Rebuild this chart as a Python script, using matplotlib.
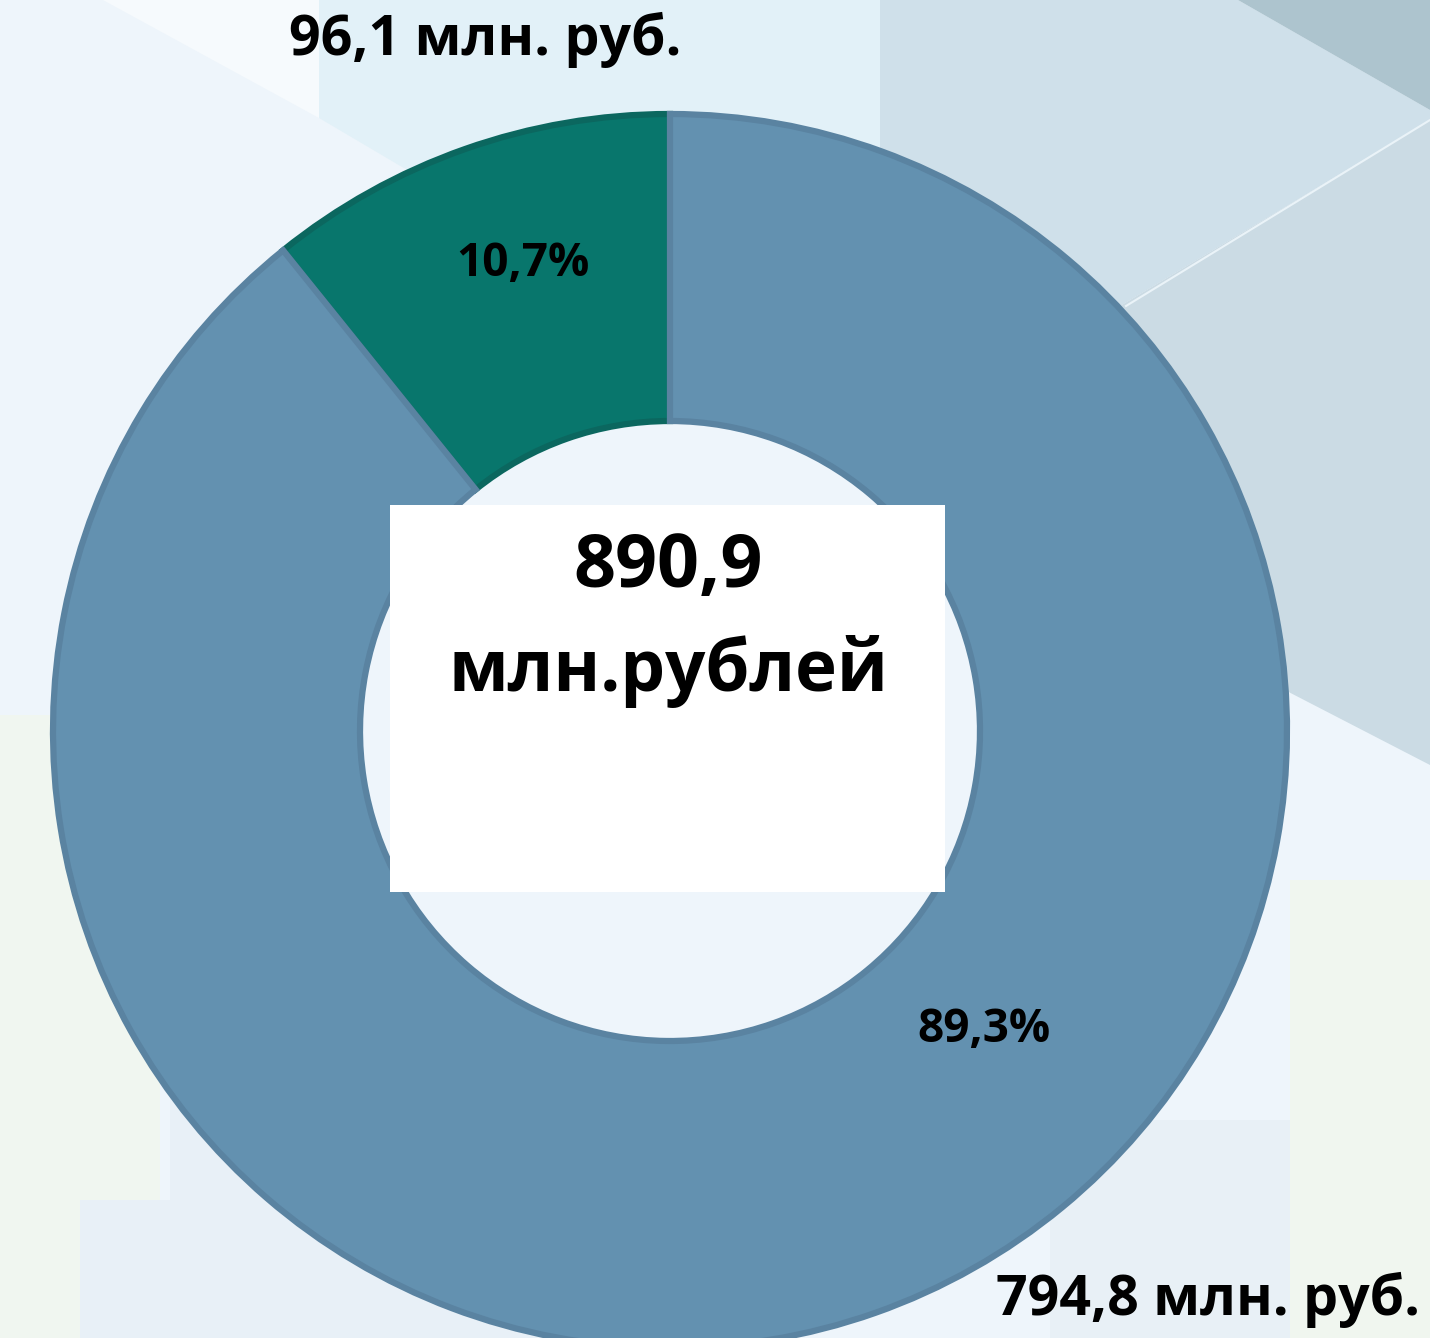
import matplotlib
matplotlib.use("Agg")
import matplotlib.pyplot as plt
from matplotlib.patches import Polygon, Rectangle

# ---- data ----
values = [96.1, 794.8]
percent_labels = ["10,7%", "89,3%"]
value_labels = ["96,1 млн. руб.", "794,8 млн. руб."]
total_label = "890,9\nмлн.рублей"
colors = ["#08766C", "#6391B0"]
edge_colors = ["#0B675F", "#5A83A1"]

W, H = 1430, 1338
fig = plt.figure(figsize=(W / 100, H / 100), dpi=100)
fig.patch.set_facecolor("#EEF5FB")
ax = fig.add_axes([0, 0, 1, 1])

FONT = ["Open Sans", "DejaVu Sans"]

def Y(y):
    return H - y

# ---- background decoration ----
bg = [
    ([(103, 0), (319, 0), (319, 118)], "#F6FAFD"),
    ([(319, 0), (880, 0), (880, 420), (402, 167), (319, 118)], "#E2F1F8"),
    ([(880, 0), (1238, 0), (1430, 110), (1430, 120), (880, 450)], "#CFE0EA"),
    ([(1430, 120), (1430, 765), (880, 481), (880, 450)], "#CBDBE4"),
    ([(1238, 0), (1430, 0), (1430, 110)], "#ADC4CE"),
    ([(0, 715), (160, 715), (160, 1338), (0, 1338)], "#F0F6F0"),
    ([(1290, 880), (1430, 880), (1430, 1338), (1290, 1338)], "#F0F6EF"),
    ([(80, 1200), (170, 1200), (170, 1060), (580, 1060), (580, 1338), (80, 1338)], "#E8F0F7"),
    ([(1050, 1120), (1290, 1120), (1290, 1338), (1050, 1338)], "#E8F0F6"),
]
for pts, c in bg:
    ax.add_patch(Polygon([(x, Y(y)) for x, y in pts], closed=True,
                         facecolor=c, edgecolor="none", zorder=0))
# white line in the right panel
ax.plot([1126, 1430], [Y(306), Y(120)], color="#EAF3F8", lw=1.5, zorder=0.5)

# ---- donut ----
cx, cy, r_out, r_in = 670, 731, 617, 310
wedges, _ = ax.pie(values, colors=colors, startangle=90, counterclock=True,
                   center=(cx, Y(cy)), radius=r_out,
                   wedgeprops=dict(width=r_out - r_in, linewidth=4.5))
for w, ec in zip(wedges, edge_colors):
    w.set_edgecolor(ec)
    w.set_zorder(2)

# ---- center box ----
ax.add_patch(Rectangle((390, Y(892)), 555, 387, facecolor="white",
                       edgecolor="none", zorder=3))
top_line, bottom_line = total_label.split("\n")
ax.text(668, Y(568), top_line, ha="center", va="center",
        fontsize=53, fontweight="bold", family=FONT, color="black", zorder=4)
ax.text(668, Y(672), bottom_line, ha="center", va="center",
        fontsize=51, fontweight="bold", family=FONT, color="black", zorder=4)

# ---- labels ----
ax.text(523, Y(264), percent_labels[0], ha="center", va="center",
        fontsize=33, fontweight="bold", family=FONT, color="black", zorder=4)
ax.text(984, Y(1029), percent_labels[1], ha="center", va="center",
        fontsize=33, fontweight="bold", family=FONT, color="black", zorder=4)
ax.text(485, Y(40), value_labels[0], ha="center", va="center",
        fontsize=40, fontweight="bold", family=FONT, color="black", zorder=4)
ax.text(1208, Y(1300), value_labels[1], ha="center", va="center",
        fontsize=40, fontweight="bold", family=FONT, color="black", zorder=4)

ax.set_xlim(0, W)
ax.set_ylim(0, H)
ax.set_aspect("auto")
ax.axis("off")

fig.savefig("out.png", dpi=100, facecolor=fig.get_facecolor())
